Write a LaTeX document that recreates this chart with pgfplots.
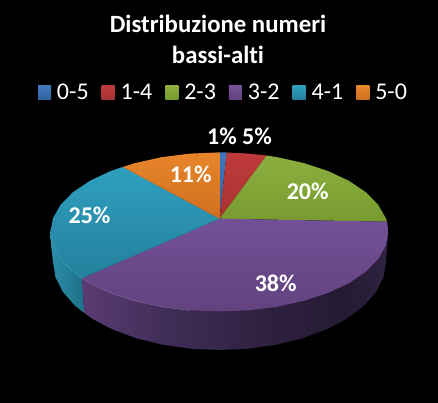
\documentclass[border=0pt]{standalone}
\usepackage{pgfplots}
\pgfplotsset{compat=1.18}
\usepackage{fontspec}
\setmainfont{Carlito}[Ligatures=NoCommon]
\definecolor{bluT}{HTML}{4078BE}\definecolor{bluB}{HTML}{33639F}
\definecolor{redT}{HTML}{BE3B3A}\definecolor{redB}{HTML}{A83332}
\definecolor{grnT}{HTML}{8AAF3F}\definecolor{grnB}{HTML}{789A2F}
\definecolor{purT}{HTML}{735198}\definecolor{purB}{HTML}{62427E}
\definecolor{teaT}{HTML}{2F9FBF}\definecolor{teaB}{HTML}{24809C}
\definecolor{oraT}{HTML}{E8852B}\definecolor{oraB}{HTML}{D0701F}
\definecolor{spa}{HTML}{5A3B72}\definecolor{spb}{HTML}{3E2C55}\definecolor{spc}{HTML}{2E2140}\definecolor{spd}{HTML}{251A33}\definecolor{spe}{HTML}{2F2340}
\definecolor{sta}{HTML}{2A8CA8}\definecolor{stb}{HTML}{1F7088}
\definecolor{rimp}{HTML}{8268A0}\definecolor{rimt}{HTML}{3AA5C0}
\pgfdeclarehorizontalshading{sidepur}{100bp}{color(0bp)=(spa);color(25bp)=(spa);color(40bp)=(spb);color(55bp)=(spc);color(68bp)=(spd);color(75bp)=(spe);color(100bp)=(spe)}
\pgfdeclarehorizontalshading{sidetea}{100bp}{color(0bp)=(sta);color(25bp)=(sta);color(75bp)=(stb);color(100bp)=(stb)}
\newcommand{\dl}[3]{\node[text=white,font=\fontsize{24bp}{24bp}\selectfont\bfseries,inner sep=0pt] at (axis cs:#1,#2) {#3};}
\begin{document}
\begin{tikzpicture}
\fill[black] (0,0) rectangle (438bp,403bp);
\begin{axis}[
  at={(0,0)},anchor=south west,
  scale only axis,width=438bp,height=403bp,
  xmin=0,xmax=438,ymin=0,ymax=403,y dir=reverse,
  hide axis,clip=false,
  legend columns=6,
  legend style={at={(axis cs:38,92.5)},anchor=west,draw=none,fill=none,text=white,
    font=\fontsize{24bp}{24bp}\selectfont,inner sep=0pt,outer sep=0pt,
    /tikz/every even column/.append style={column sep=11bp},
    /tikz/every odd column/.append style={column sep=4bp}},
  legend image code/.code={\path[#1,draw=none] (0bp,-6.5bp) rectangle (13bp,6.5bp);},
]
% sides
\addplot[forget plot,draw=none,shading=sidetea] coordinates {(50.4,232)(51,245)(53,262)(55.5,277.3)(63,292.1)(75.3,306)(84.3,313)(82,278.3)(73,271.8)(60.6,259.2)(53,245.8)};
\addplot[forget plot,draw=none,shading=sidepur] coordinates {(82,278.3)(84.3,313)(92,318.6)(112.5,329.4)(136.2,338.2)(162.6,344.7)(190.6,348.7)(219.5,350)(248.4,348.7)(276.4,344.7)(302.8,338.2)(326.5,329.4)(347,318.6)(363.7,306)(376,292.1)(383.5,277.3)(386,262)(387.3,245)(388.4,232)(385.8,245.8)(378.2,259.2)(365.8,271.8)(348.9,283.2)(328,293)(303.9,300.9)(277.2,306.8)(248.7,310.4)(219.4,311.6)(190.1,310.4)(161.6,306.8)(135,300.9)(110.8,293)(89.9,283.2)};
% top faces
\addplot[draw=none,shade,top color=bluT,bottom color=bluB] coordinates {(219.5,218.7)(219.4,152.4)(226.7,152.5)};
\addlegendentry{0-5}
\addplot[draw=none,shade,top color=redT,bottom color=redB] coordinates {(219.5,218.7)(226.7,152.5)(248.7,153.6)(266.7,155.5)};
\addlegendentry{1-4}
\addplot[draw=none,shade,top color=grnT,bottom color=grnB] coordinates {(219.5,218.7)(266.7,155.5)(277.2,157.2)(303.9,163.1)(328,171)(348.9,180.8)(365.8,192.2)(378.2,204.8)(385.8,218.2)(387,221.7)};
\addlegendentry{2-3}
\addplot[draw=none,shade,top color=purT,bottom color=purB] coordinates {(219.5,218.7)(387,221.7)(388.4,232)(385.8,245.8)(378.2,259.2)(365.8,271.8)(348.9,283.2)(328,293)(303.9,300.9)(277.2,306.8)(248.7,310.4)(219.4,311.6)(190.1,310.4)(161.6,306.8)(135,300.9)(110.8,293)(89.9,283.2)(82,278.3)};
\addlegendentry{3-2}
\addplot[draw=none,shade,top color=teaT,bottom color=teaB] coordinates {(219.5,218.7)(82,278.3)(73,271.8)(60.6,259.2)(53,245.8)(50.4,232)(53,218.2)(60.6,204.8)(73,192.2)(89.9,180.8)(110.8,171)(122.7,167)};
\addlegendentry{4-1}
\addplot[draw=none,shade,top color=oraT,bottom color=oraB] coordinates {(219.5,218.7)(122.7,167)(135,163.1)(161.6,157.2)(190.1,153.6)(219.4,152.4)};
\addlegendentry{5-0}
% rim highlight
\addplot[forget plot,rimp,line width=0.5bp] coordinates {(82,278.3)(89.9,283.2)(110.8,293)(135,300.9)(161.6,306.8)(190.1,310.4)};
\addplot[forget plot,rimt,line width=0.5bp] coordinates {(50.4,232)(53,245.8)(60.6,259.2)(73,271.8)(82,278.3)};
\dl{222}{136}{1\%}
\dl{257}{136}{5\%}
\dl{190.7}{174.7}{11\%}
\dl{307.7}{191}{20\%}
\dl{89.5}{215.7}{25\%}
\dl{275.7}{283}{38\%}
\node[text=white,align=center,inner sep=0pt,font=\fontsize{24.8bp}{31bp}\selectfont\bfseries] at (axis cs:218,39.5) {Distribuzione numeri\\bassi-alti};
\end{axis}
\end{tikzpicture}
\end{document}
